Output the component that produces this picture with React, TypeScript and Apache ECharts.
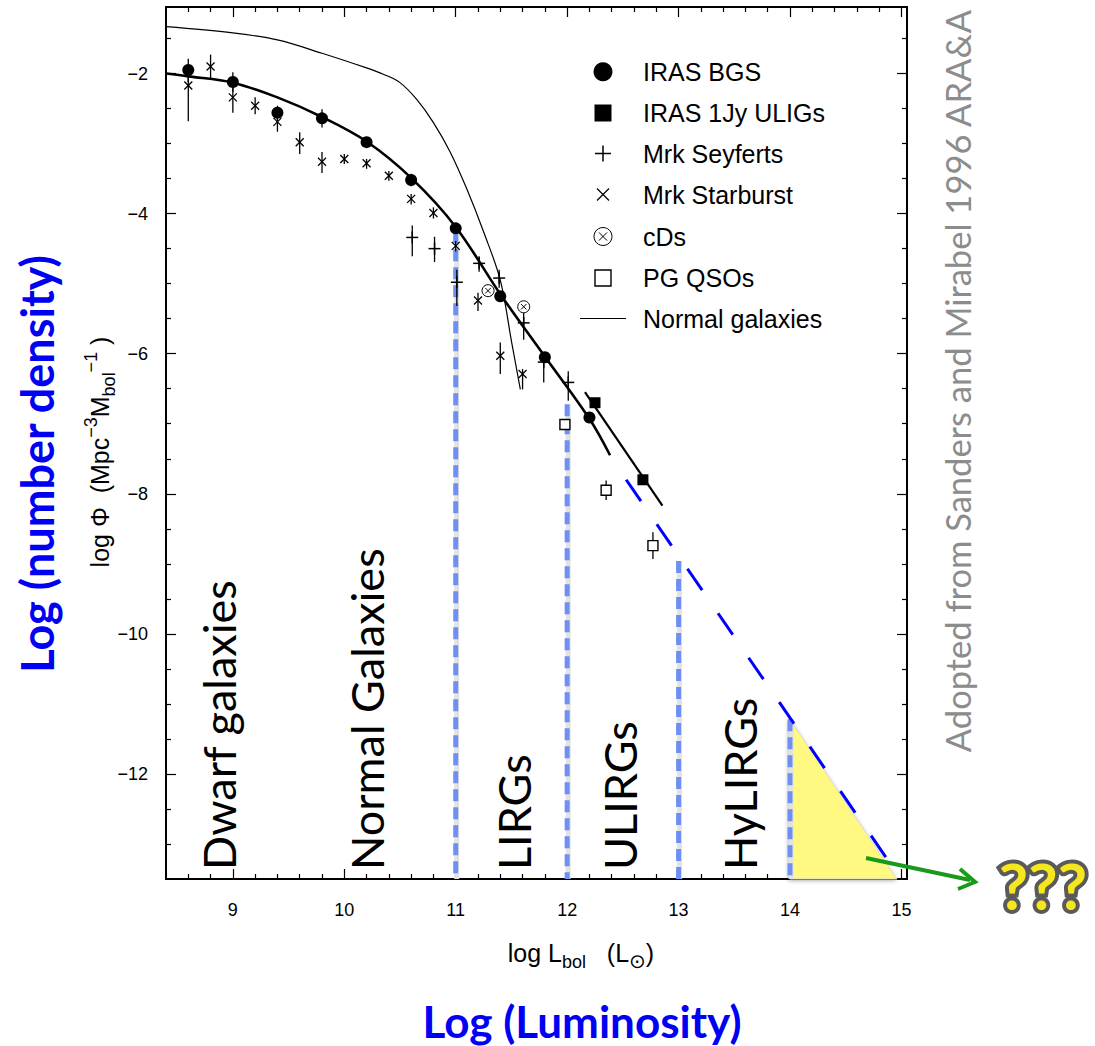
import React, { useEffect, useRef } from 'react';
import * as echarts from 'echarts';

// ---------- axes ----------
const X_MIN = 8.4;
const X_MAX = 15.05;
const Y_MIN = -13.5;
const Y_MAX = -1.05;
const xMajorTicks = [9, 10, 11, 12, 13, 14, 15];
const yMajorTicks = [-2, -4, -6, -8, -10, -12];
const X_MINOR_STEP = 0.2;
const Y_MINOR_STEP = 0.5;

// ---------- data ----------
// IRAS BGS (filled circles)
const bgsX = [8.6, 9.0, 9.4, 9.8, 10.2, 10.6, 11.0, 11.4, 11.8, 12.2];
const bgsY = [-1.95, -2.12, -2.56, -2.64, -2.98, -3.52, -4.21, -5.18, -6.05, -6.91];
const bgsHi = [-1.79, -1.98, -2.46, -2.51, -2.92, -3.43, -4.16, -5.12, -5.98, -6.86];
const bgsLo = [-2.12, -2.26, -2.66, -2.77, -3.04, -3.61, -4.26, -5.24, -6.12, -6.96];

// IRAS 1Jy ULIGs (filled squares)
const jyX = [12.25, 12.68];
const jyY = [-6.7, -7.8];

// Mrk Seyferts (+)
const seyX = [10.61, 10.81, 11.01, 11.21, 11.39, 11.61, 11.79, 12.01];
const seyY = [-4.34, -4.5, -4.98, -4.71, -4.92, -5.56, -6.12, -6.41];
const seyHi = [-4.17, -4.33, -4.8, -4.61, -4.8, -5.42, -6.01, -6.25];
const seyLo = [-4.61, -4.69, -5.32, -4.83, -5.06, -5.8, -6.41, -6.67];

// Mrk Starburst (x)
const sbX = [8.6, 8.8, 9.0, 9.2, 9.4, 9.6, 9.8, 10.0, 10.2, 10.4, 10.6, 10.8, 11.0, 11.2, 11.4, 11.6];
const sbY = [-2.17, -1.9, -2.34, -2.46, -2.69, -2.98, -3.26, -3.22, -3.28, -3.46, -3.79, -3.99, -4.46, -5.24, -6.03, -6.29];
const sbHi = [-2.02, -1.73, -2.2, -2.34, -2.58, -2.84, -3.12, -3.15, -3.22, -3.39, -3.72, -3.91, -4.39, -5.13, -5.84, -6.22];
const sbLo = [-2.68, -2.09, -2.56, -2.58, -2.83, -3.15, -3.42, -3.29, -3.36, -3.53, -3.87, -4.07, -4.54, -5.39, -6.29, -6.51];

// cDs
const cdX = [11.29, 11.61];
const cdY = [-5.1, -5.33];

// PG QSOs (open squares)
const qsoX = [11.98, 12.35, 12.77];
const qsoY = [-7.01, -7.95, -8.74];
const qsoHi = [-7.01, -7.81, -8.55];
const qsoLo = [-7.01, -8.09, -8.93];

// Normal galaxies curve
const ngX = [8.4, 9.0, 9.4, 9.8, 10.2, 10.35, 10.5, 10.65, 10.8, 10.95, 11.1, 11.25, 11.4, 11.5, 11.58];
const ngY = [-1.33, -1.42, -1.52, -1.71, -1.92, -2.01, -2.13, -2.37, -2.7, -3.12, -3.65, -4.26, -4.95, -5.82, -6.51];

// IRAS BGS fit
const fitX = [8.4, 8.6, 9.0, 9.4, 9.8, 10.2, 10.6, 11.0, 11.4, 11.8, 12.2, 12.385];
const fitY = [-2.0, -2.04, -2.13, -2.34, -2.62, -2.97, -3.49, -4.19, -5.15, -6.04, -6.93, -7.45];

// 1Jy fit
const jyFitX = [12.16, 12.855];
const jyFitY = [-6.55, -8.17];

// extrapolation (blue dashed)
const extX = [12.53, 14.93];
const extY = [-7.8, -13.35];

// class boundaries (x, top of dashed line)
const bndX = [11, 12, 13, 14];
const bndTop = [-4.25, -6.72, -8.96, -11.22];

// HyLIRG "unknown" region
const triX = [14.0, 14.0, 14.96];
const triY = [-11.22, -13.5, -13.5];

// region labels
const regionNames = ['Dwarf galaxies', 'Normal Galaxies', 'LIRGs', 'ULIRGs', 'HyLIRGs'];
const regionPx = [219, 367, 514, 620, 740];

const legendNames = ['IRAS BGS', 'IRAS 1Jy ULIGs', 'Mrk Seyferts', 'Mrk Starburst', 'cDs', 'PG QSOs', 'Normal galaxies'];
const legendKinds = ['circle', 'square', 'plus', 'cross', 'otimes', 'open', 'line'];

// ---------- helpers ----------
const zip = (xs: number[], ys: number[]) => xs.map((x, i) => [x, ys[i]]);

const tickValues = (min: number, max: number, step: number, skip: number[]) => {
  const out: number[] = [];
  const n0 = Math.ceil(min / step - 1e-9);
  const n1 = Math.floor(max / step + 1e-9);
  for (let i = n0; i <= n1; i++) {
    const v = +(i * step).toFixed(4);
    if (Math.abs(v - min) < 1e-6 || Math.abs(v - max) < 1e-6) continue;
    if (skip.some((s) => Math.abs(s - v) < 1e-6)) continue;
    out.push(v);
  }
  return out;
};

const xMinorTicks = tickValues(X_MIN, X_MAX, X_MINOR_STEP, xMajorTicks);
const yMinorTicks = tickValues(Y_MIN, Y_MAX, Y_MINOR_STEP, yMajorTicks);

const dataSize: Record<string, number> = { circle: 12, square: 11, plus: 12, cross: 8, otimes: 12, open: 10 };
const legendSize: Record<string, number> = { circle: 19, square: 17, plus: 16, cross: 12, otimes: 18, open: 16, line: 46 };

function drawMarker(kind: string, cx: number, cy: number, s: number): any[] {
  const h = s / 2;
  switch (kind) {
    case 'circle':
      return [{ type: 'circle', shape: { cx, cy, r: h }, style: { fill: '#000' } }];
    case 'square':
      return [{ type: 'rect', shape: { x: cx - h, y: cy - h, width: s, height: s }, style: { fill: '#000' } }];
    case 'plus':
      return [
        { type: 'line', shape: { x1: cx - h, y1: cy, x2: cx + h, y2: cy }, style: { stroke: '#000', lineWidth: 1.5 } },
        { type: 'line', shape: { x1: cx, y1: cy - h, x2: cx, y2: cy + h }, style: { stroke: '#000', lineWidth: 1.5 } },
      ];
    case 'cross':
      return [
        { type: 'line', shape: { x1: cx - h, y1: cy - h, x2: cx + h, y2: cy + h }, style: { stroke: '#000', lineWidth: 1.3 } },
        { type: 'line', shape: { x1: cx - h, y1: cy + h, x2: cx + h, y2: cy - h }, style: { stroke: '#000', lineWidth: 1.3 } },
      ];
    case 'otimes': {
      const d = h * 0.45;
      return [
        { type: 'circle', shape: { cx, cy, r: h }, style: { fill: '#fff', stroke: '#000', lineWidth: 1 } },
        { type: 'line', shape: { x1: cx - d, y1: cy - d, x2: cx + d, y2: cy + d }, style: { stroke: '#000', lineWidth: 1 } },
        { type: 'line', shape: { x1: cx - d, y1: cy + d, x2: cx + d, y2: cy - d }, style: { stroke: '#000', lineWidth: 1 } },
      ];
    }
    case 'open':
      return [{ type: 'rect', shape: { x: cx - h, y: cy - h, width: s, height: s }, style: { fill: '#fff', stroke: '#000', lineWidth: 1.4 } }];
    case 'line':
      return [{ type: 'line', shape: { x1: cx - h, y1: cy, x2: cx + h, y2: cy }, style: { stroke: '#000', lineWidth: 1.2 } }];
    default:
      return [];
  }
}

function markerSeries(name: string, kind: string, xs: number[], ys: number[], lo: number[], hi: number[]) {
  return {
    type: 'custom',
    name,
    z: 10,
    encode: { x: 0, y: 1 },
    data: xs.map((x, i) => [x, ys[i], lo[i], hi[i]]),
    renderItem: (params: any, api: any) => {
      const x = api.value(0);
      const y = api.value(1);
      const l = api.value(2);
      const hv = api.value(3);
      const p = api.coord([x, y]);
      const children: any[] = [];
      if (Math.abs(l - hv) > 1e-6) {
        const a = api.coord([x, hv]);
        const b = api.coord([x, l]);
        children.push({ type: 'line', shape: { x1: a[0], y1: a[1], x2: b[0], y2: b[1] }, style: { stroke: '#000', lineWidth: 1.3 } });
      }
      children.push(...drawMarker(kind, p[0], p[1], dataSize[kind]));
      return { type: 'group', children };
    },
  };
}

const HELV = '"Liberation Sans", Arial, Helvetica, sans-serif';
const CAL = 'Lato, "Open Sans", sans-serif';
const minusFmt = (v: number) => String(v).replace('-', '\u2212');

function xAxisDef(pos: string, ticks: number[], len: number, main: boolean) {
  return {
    type: 'value', min: X_MIN, max: X_MAX, position: pos, gridIndex: 0,
    axisLine: { show: true, onZero: false, lineStyle: { color: '#000', width: 2 } },
    axisTick: { show: true, inside: true, length: len, customValues: ticks, lineStyle: { color: '#000', width: 1.2 } },
    axisLabel: main
      ? { show: true, customValues: xMajorTicks, margin: 22, fontSize: 18, color: '#000', fontFamily: HELV, formatter: minusFmt }
      : { show: false },
    splitLine: { show: false },
  };
}

function yAxisDef(pos: string, ticks: number[], len: number, main: boolean) {
  return {
    type: 'value', min: Y_MIN, max: Y_MAX, position: pos, gridIndex: 0,
    axisLine: { show: true, onZero: false, lineStyle: { color: '#000', width: 2 } },
    axisTick: { show: true, inside: true, length: len, customValues: ticks, lineStyle: { color: '#000', width: 1.2 } },
    axisLabel: main
      ? { show: true, customValues: yMajorTicks, margin: 18, fontSize: 18, color: '#000', fontFamily: HELV, formatter: minusFmt }
      : { show: false },
    splitLine: { show: false },
  };
}

const legendRowY = [71.7, 113, 153.5, 194.5, 236.5, 278, 318.5];

export default function App() {
  const ref = useRef<HTMLDivElement>(null);

  useEffect(() => {
    if (!ref.current) return;
    const chart = echarts.init(ref.current, null, { renderer: 'svg' });

    const legendGraphics: any[] = [];
    legendNames.forEach((name, i) => {
      const kind = legendKinds[i];
      legendGraphics.push(...drawMarker(kind, 603, legendRowY[i], legendSize[kind]));
      legendGraphics.push({
        type: 'text', x: 643, y: legendRowY[i],
        style: { text: name, fill: '#000', font: `25px ${HELV}`, textAlign: 'left', textVerticalAlign: 'middle', align: 'left', verticalAlign: 'middle' },
      });
    });

    const regionGraphics = regionNames.map((t, i) => ({
      type: 'text', x: regionPx[i], y: 870, rotation: Math.PI / 2,
      style: { text: t, fill: '#000', font: `45px ${CAL}`, textAlign: 'left', textVerticalAlign: 'middle', align: 'left', verticalAlign: 'middle' },
    }));

    const richAxis = {
      n: { fontSize: 25, fontFamily: HELV, color: '#000', lineHeight: 36, verticalAlign: 'middle' },
      sub: { fontSize: 18, fontFamily: HELV, color: '#000', padding: [12, 0, 0, 0], verticalAlign: 'bottom' },
      sup: { fontSize: 18, fontFamily: HELV, color: '#000', padding: [0, 0, 12, 0], verticalAlign: 'top' },
      sun: { fontSize: 20, fontFamily: '"DejaVu Sans", sans-serif', color: '#000', padding: [13, 0, 0, 0], verticalAlign: 'bottom' },
    };

    const option: any = {
      animation: false,
      backgroundColor: '#fff',
      grid: { left: 166, top: 7, width: 741, height: 872, containLabel: false, outerBoundsMode: 'none' },
      xAxis: [
        xAxisDef('bottom', xMajorTicks, 10, true),
        xAxisDef('bottom', xMinorTicks, 5, false),
        xAxisDef('top', xMajorTicks, 10, false),
        xAxisDef('top', xMinorTicks, 5, false),
      ],
      yAxis: [
        yAxisDef('left', yMajorTicks, 10, true),
        yAxisDef('left', yMinorTicks, 5, false),
        yAxisDef('right', yMajorTicks, 10, false),
        yAxisDef('right', yMinorTicks, 5, false),
      ],
      series: [
        {
          type: 'custom', name: 'HyLIRG region', z: 1, silent: true, encode: { x: 0, y: 1 },
          data: zip(triX, triY),
          renderItem: (params: any, api: any) => {
            if (params.dataIndex !== 0) return { type: 'group', children: [] };
            const pts = triX.map((x, i) => api.coord([x, triY[i]]));
            return {
              type: 'polygon', shape: { points: pts },
              style: { fill: '#fff982', stroke: '#d8d8d8', lineWidth: 1, shadowBlur: 4, shadowColor: 'rgba(0,0,0,0.35)', shadowOffsetX: -1, shadowOffsetY: 1 },
            };
          },
        },
        {
          type: 'custom', name: 'Class boundaries', z: 2, silent: true, encode: { x: 0, y: 1 },
          data: zip(bndX, bndTop),
          renderItem: (params: any, api: any) => {
            const x = api.value(0);
            const a = api.coord([x, api.value(1)]);
            const b = api.coord([x, Y_MIN]);
            return {
              type: 'group', children: [
                { type: 'line', shape: { x1: a[0] + 1, y1: a[1], x2: b[0] + 1, y2: b[1] }, style: { stroke: '#e2e2e2', lineWidth: 5 } },
                { type: 'line', shape: { x1: a[0], y1: a[1], x2: b[0], y2: b[1] }, style: { stroke: '#6f8ff2', lineWidth: 5, lineDash: [12, 6] } },
              ],
            };
          },
        },
        {
          type: 'line', name: 'Normal galaxies', z: 3, data: zip(ngX, ngY), smooth: 0.35,
          showSymbol: false, symbol: 'none', lineStyle: { color: '#000', width: 1.2 },
        },
        {
          type: 'line', name: 'BGS fit', z: 4, data: zip(fitX, fitY), smooth: 0.35,
          showSymbol: false, symbol: 'none', lineStyle: { color: '#000', width: 2.6 },
        },
        {
          type: 'line', name: '1Jy fit', z: 4, data: zip(jyFitX, jyFitY),
          showSymbol: false, symbol: 'none', lineStyle: { color: '#000', width: 2.2 },
        },
        {
          type: 'line', name: 'Extrapolation', z: 5, data: zip(extX, extY),
          showSymbol: false, symbol: 'none', lineStyle: { color: '#0000ff', width: 3, type: [26, 28] },
        },
        markerSeries('IRAS BGS', 'circle', bgsX, bgsY, bgsLo, bgsHi),
        markerSeries('IRAS 1Jy ULIGs', 'square', jyX, jyY, jyY, jyY),
        markerSeries('Mrk Seyferts', 'plus', seyX, seyY, seyLo, seyHi),
        markerSeries('Mrk Starburst', 'cross', sbX, sbY, sbLo, sbHi),
        markerSeries('cDs', 'otimes', cdX, cdY, cdY, cdY),
        markerSeries('PG QSOs', 'open', qsoX, qsoY, qsoLo, qsoHi),
      ],
      graphic: [
        { type: 'group', children: legendGraphics },
        { type: 'group', children: regionGraphics },
        {
          type: 'text', x: 581, y: 953,
          style: {
            text: '{n|log L}{sub|bol}{n|   (L}{sun|\u2299}{n|)}',
            rich: richAxis, textAlign: 'center', textVerticalAlign: 'middle', align: 'center', verticalAlign: 'middle',
          },
        },
        {
          type: 'text', x: 100, y: 452, rotation: Math.PI / 2,
          style: {
            text: '{n|log \u03A6  (Mpc}{sup|\u22123}{n|M}{sub|bol}{sup|\u22121}{n| )}',
            rich: richAxis, textAlign: 'center', textVerticalAlign: 'middle', align: 'center', verticalAlign: 'middle',
          },
        },
        {
          type: 'text', x: 582, y: 1021,
          style: { text: 'Log (Luminosity)', fill: '#0000f5', font: `bold 44px ${CAL}`, textAlign: 'center', textVerticalAlign: 'middle', align: 'center', verticalAlign: 'middle' },
        },
        {
          type: 'text', x: 37, y: 464, rotation: Math.PI / 2,
          style: { text: 'Log (number density)', fill: '#0000f5', font: `bold 45px ${CAL}`, textAlign: 'center', textVerticalAlign: 'middle', align: 'center', verticalAlign: 'middle' },
        },
        {
          type: 'text', x: 957, y: 381, rotation: Math.PI / 2,
          style: { text: 'Adopted from Sanders and Mirabel 1996 ARA&A', fill: '#8c8c8c', font: `34.5px ${CAL}`, textAlign: 'center', textVerticalAlign: 'middle', align: 'center', verticalAlign: 'middle' },
        },
        {
          type: 'line', z: 20, shape: { x1: 866, y1: 858, x2: 970, y2: 880 },
          style: { stroke: '#1a9a1a', lineWidth: 4 },
        },
        {
          type: 'polyline', z: 20, shape: { points: [[960, 869], [975, 882], [958, 889]] },
          style: { stroke: '#1a9a1a', lineWidth: 4, fill: 'none' },
        },
        {
          type: 'text', x: 1043, y: 885, z: 20,
          style: { text: '???', fill: '#5a5a5a', stroke: '#5a5a5a', lineWidth: 8, font: `bold 64px ${CAL}`, textAlign: 'center', textVerticalAlign: 'middle', align: 'center', verticalAlign: 'middle', shadowBlur: 4, shadowColor: 'rgba(0,0,0,0.5)', shadowOffsetX: 2, shadowOffsetY: 2 },
        },
        {
          type: 'text', x: 1043, y: 885, z: 21,
          style: { text: '???', fill: '#f5e61e', font: `bold 64px ${CAL}`, textAlign: 'center', textVerticalAlign: 'middle', align: 'center', verticalAlign: 'middle' },
        },
      ],
    };

    chart.setOption(option);
    return () => chart.dispose();
  }, []);

  return (
    <div
      ref={ref}
      style={{ position: 'fixed', left: 0, top: 0, width: 1095, height: 1046, background: '#fff' }}
    />
  );
}
